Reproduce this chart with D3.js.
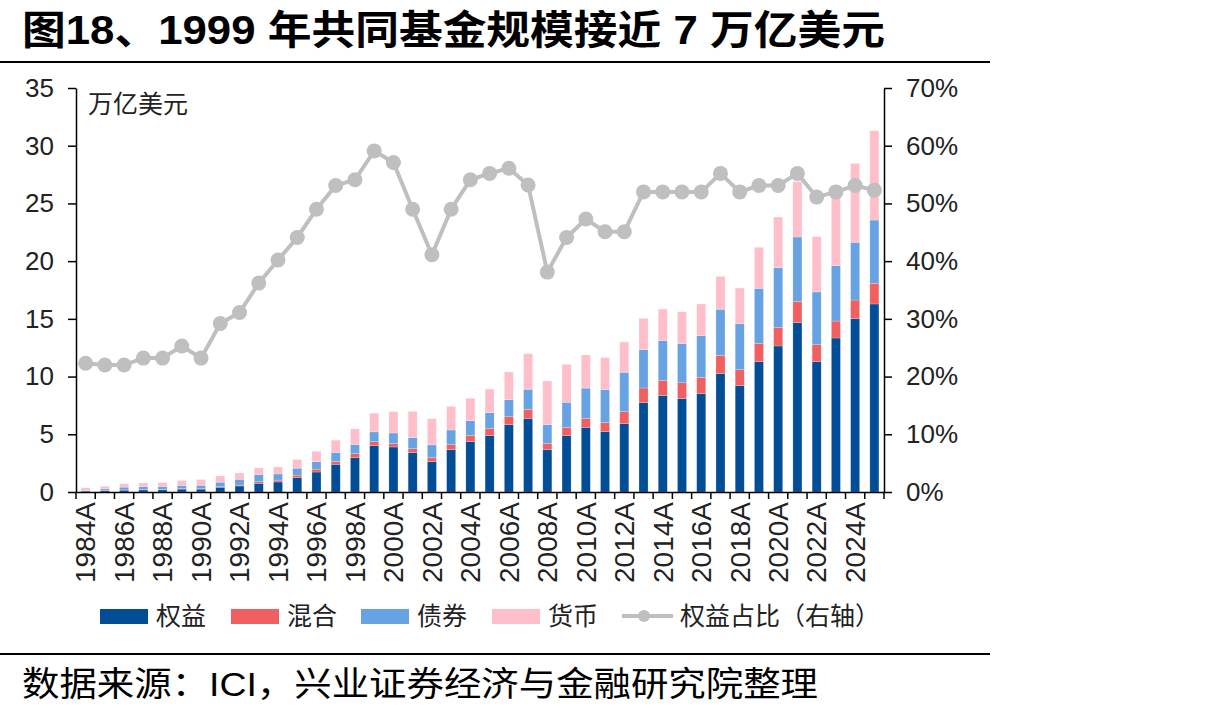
<!DOCTYPE html>
<html>
<head>
<meta charset="utf-8">
<script src="https://cdn.jsdelivr.net/npm/d3@7"></script>
<style>
  body { margin: 0; background: #fff; }
  svg { display: block; }
  text { font-family: "Liberation Sans", Arial, "Noto Sans CJK SC", sans-serif; }
</style>
</head>
<body>
<svg id="chart"></svg>
<script>
const WIDTH = 1205;
const HEIGHT = 714;

const years = ["1984A","1985A","1986A","1987A","1988A","1989A","1990A","1991A","1992A","1993A",
  "1994A","1995A","1996A","1997A","1998A","1999A","2000A","2001A","2002A","2003A",
  "2004A","2005A","2006A","2007A","2008A","2009A","2010A","2011A","2012A","2013A",
  "2014A","2015A","2016A","2017A","2018A","2019A","2020A","2021A","2022A","2023A",
  "2024A","2025A"];

// 万亿美元
const equity = [0.08,0.11,0.16,0.18,0.19,0.25,0.25,0.41,0.52,0.75,0.87,1.25,1.73,
  2.40,2.98,4.01,3.90,3.41,2.63,3.67,4.36,4.88,5.83,6.38,3.67,4.88,5.60,
  5.24,5.92,7.74,8.35,8.09,8.52,10.25,9.21,11.29,12.65,14.67,11.29,13.34,15.01,16.29];
const mixed = [0.01,0.02,0.02,0.03,0.03,0.04,0.04,0.05,0.08,0.14,0.16,0.21,0.25,
  0.25,0.34,0.35,0.31,0.34,0.35,0.43,0.55,0.61,0.69,0.78,0.55,0.72,0.78,
  0.79,1.04,1.27,1.32,1.38,1.41,1.59,1.39,1.59,1.62,1.85,1.47,1.47,1.62,1.79];
const bond = [0.05,0.14,0.24,0.25,0.26,0.27,0.29,0.39,0.50,0.62,0.53,0.60,0.65,
  0.78,0.80,0.85,0.90,0.96,1.10,1.27,1.27,1.38,1.48,1.74,1.61,2.17,2.62,
  2.84,3.41,3.32,3.44,3.38,3.61,3.99,3.98,4.76,5.16,5.57,4.57,4.80,5.00,5.48];
const money = [0.23,0.23,0.29,0.32,0.34,0.43,0.50,0.54,0.55,0.57,0.61,0.75,0.90,
  1.06,1.35,1.62,1.85,2.28,2.27,2.05,1.94,2.05,2.40,3.08,3.79,3.29,2.87,
  2.77,2.63,2.72,2.74,2.77,2.75,2.85,3.09,3.56,4.39,4.80,4.79,6.05,6.84,7.74];
// 权益占比（%）
const equityShare = [22.3,22,22,23.2,23.2,25.3,23.2,29.2,31.1,36.2,40.2,44.1,49.0,
  53.1,54.1,59.1,57.1,49.0,41.1,49.0,54.1,55.2,56.1,53.2,38.1,44.1,47.3,
  45.1,45.1,52.0,52.0,52.0,52.0,55.2,52.0,53.1,53.1,55.2,51.1,52.0,53.1,52.3];

const leftTicks = [0,5,10,15,20,25,30,35];
const rightTicks = [0,10,20,30,40,50,60,70];

const seriesKeys = ["权益","混合","债券","货币"];
const seriesColors = ["#024e96","#f06060","#67a3e3","#ffbfca"];
const lineColor = "#bfbfbf";

const PLOT = { left: 76, right: 884, top: 88, bottom: 492 };

const rows = years.map((y, i) => ({
  year: y, "权益": equity[i], "混合": mixed[i], "债券": bond[i], "货币": money[i]
}));

const svg = d3.select("#chart").attr("width", WIDTH).attr("height", HEIGHT);

// title + rules
svg.append("text")
  .attr("x", 22).attr("y", 44)
  .attr("font-size", 40).attr("font-weight", "bold")
  .attr("font-family", "'Liberation Sans Narrow','Liberation Sans','Noto Sans CJK SC'")
  .attr("textLength", 863).attr("lengthAdjust", "spacingAndGlyphs")
  .attr("fill", "#000")
  .text("图18、1999 年共同基金规模接近 7 万亿美元");

svg.append("line").attr("x1", 0).attr("x2", 990).attr("y1", 62).attr("y2", 62)
  .attr("stroke", "#000").attr("stroke-width", 2);
svg.append("line").attr("x1", 0).attr("x2", 990).attr("y1", 654).attr("y2", 654)
  .attr("stroke", "#000").attr("stroke-width", 2);

svg.append("text")
  .attr("x", 22).attr("y", 696)
  .attr("font-size", 34)
  .attr("font-family", "'Liberation Sans Narrow','Liberation Sans','Noto Sans CJK SC'")
  .attr("textLength", 796).attr("lengthAdjust", "spacingAndGlyphs")
  .attr("fill", "#000")
  .text("数据来源：ICI，兴业证券经济与金融研究院整理");

// scales
const pad = 0.53;
const x = d3.scaleBand().domain(years)
  .range([PLOT.left, PLOT.right]).paddingInner(pad).paddingOuter(pad / 2);
const yL = d3.scaleLinear().domain([0, 35]).range([PLOT.bottom, PLOT.top]);
const yR = d3.scaleLinear().domain([0, 70]).range([PLOT.bottom, PLOT.top]);

// bars
const stacked = d3.stack().keys(seriesKeys)(rows);
svg.append("g").selectAll("g").data(stacked).enter()
  .append("g").attr("fill", (d, i) => seriesColors[i])
  .selectAll("rect").data(d => d).enter()
  .append("rect")
  .attr("x", d => x(d.data.year))
  .attr("width", x.bandwidth())
  .attr("y", d => yL(d[1]))
  .attr("height", d => yL(d[0]) - yL(d[1]))
  .attr("stroke", "#fff").attr("stroke-opacity", 0.35).attr("stroke-width", 0.6);

// line
const line = d3.line()
  .x((d, i) => x(years[i]) + x.bandwidth() / 2)
  .y(d => yR(d));
svg.append("path").datum(equityShare)
  .attr("d", line).attr("fill", "none")
  .attr("stroke", lineColor).attr("stroke-width", 4);
svg.append("g").selectAll("circle").data(equityShare).enter()
  .append("circle")
  .attr("cx", (d, i) => x(years[i]) + x.bandwidth() / 2)
  .attr("cy", d => yR(d))
  .attr("r", 7.5).attr("fill", lineColor);

// axes
const styleAxis = g => {
  g.select(".domain").attr("stroke", "#000").attr("stroke-width", 1.5);
  g.selectAll(".tick line").attr("stroke", "#000").attr("stroke-width", 1.5);
  g.selectAll(".tick text").attr("fill", "#222").attr("font-size", 26)
    .attr("font-family", "'Liberation Sans',Arial,sans-serif");
};

svg.append("g").attr("transform", `translate(${PLOT.left},0)`)
  .call(d3.axisLeft(yL).tickValues(leftTicks).tickSize(8).tickPadding(14).tickSizeOuter(0))
  .call(styleAxis);

svg.append("g").attr("transform", `translate(${PLOT.right},0)`)
  .call(d3.axisRight(yR).tickValues(rightTicks).tickSize(8).tickPadding(14).tickSizeOuter(0)
    .tickFormat(d => d + "%"))
  .call(styleAxis);

const xAxis = svg.append("g").attr("transform", `translate(0,${PLOT.bottom})`)
  .call(d3.axisBottom(x).tickValues(years.filter((d, i) => i % 2 === 0)).tickSize(0).tickSizeOuter(0))
  .call(styleAxis);
xAxis.selectAll(".tick text")
  .attr("transform", "rotate(-90)")
  .attr("text-anchor", "end")
  .attr("x", -10).attr("y", 0).attr("dy", "0.35em")
  .attr("font-size", 28);

// boundary ticks on x axis
const step = x.step();
const bounds = years.map(d => x(d) - step * pad / 2).concat([PLOT.right]);
svg.append("g").selectAll("line").data(bounds).enter()
  .append("line")
  .attr("x1", d => d).attr("x2", d => d)
  .attr("y1", PLOT.bottom).attr("y2", PLOT.bottom + 7)
  .attr("stroke", "#000").attr("stroke-width", 1.5);

// unit label
svg.append("text").attr("x", 88).attr("y", 113)
  .attr("font-size", 25).attr("fill", "#222")
  .attr("font-family", "'Noto Sans CJK SC',sans-serif")
  .text("万亿美元");

// legend
const legend = svg.append("g").attr("font-family", "'Noto Sans CJK SC',sans-serif");
const legendX = [100, 231, 361, 492];
seriesKeys.forEach((k, i) => {
  legend.append("rect").attr("x", legendX[i]).attr("y", 609)
    .attr("width", 48).attr("height", 15).attr("fill", seriesColors[i]);
  legend.append("text").attr("x", legendX[i] + 56).attr("y", 625)
    .attr("font-size", 25).attr("fill", "#222").text(k);
});
legend.append("line").attr("x1", 622).attr("x2", 673).attr("y1", 616).attr("y2", 616)
  .attr("stroke", lineColor).attr("stroke-width", 4);
legend.append("circle").attr("cx", 644).attr("cy", 616).attr("r", 6).attr("fill", lineColor);
legend.append("text").attr("x", 680).attr("y", 625)
  .attr("font-size", 25).attr("fill", "#222").text("权益占比（右轴）");
</script>
</body>
</html>
